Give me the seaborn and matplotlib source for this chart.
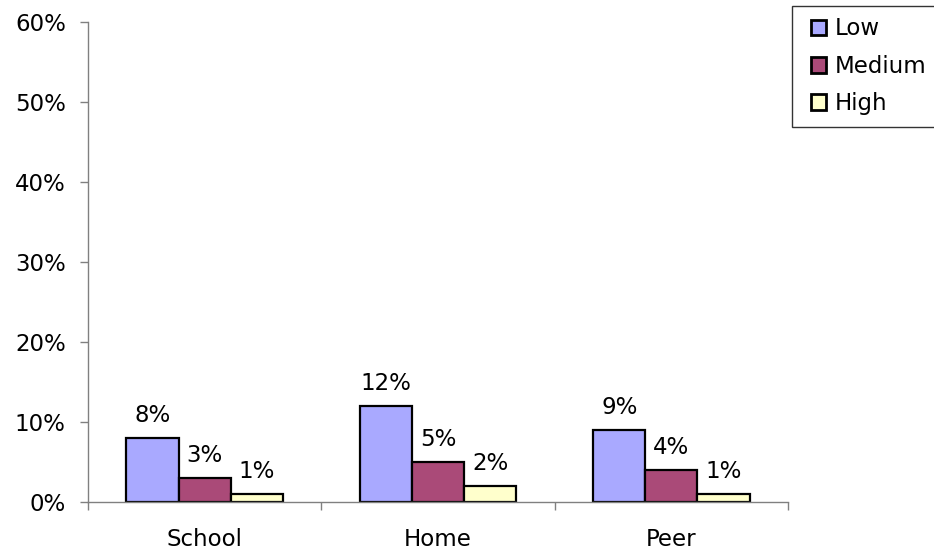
import matplotlib
matplotlib.use("Agg")
import matplotlib.pyplot as plt
import seaborn as sns
import pandas as pd
from matplotlib.patches import Rectangle
from matplotlib.legend_handler import HandlerPatch
from matplotlib.ticker import FixedLocator, PercentFormatter

categories = ["School", "Home", "Peer"]
levels = ["Low", "Medium", "High"]
low = [8, 12, 9]
medium = [3, 5, 4]
high = [1, 2, 1]
colors = ["#A9A9FF", "#AA4A78", "#FFFFCC"]

rows = []
for lvl, vals in zip(levels, [low, medium, high]):
    for c, v in zip(categories, vals):
        rows.append({"Category": c, "Level": lvl, "Value": v})
df = pd.DataFrame(rows)

sns.set_style("white")
plt.rcParams["font.family"] = ["DejaVu Sans"]
plt.rcParams["text.color"] = "black"
plt.rcParams["xtick.labelcolor"] = "black"
plt.rcParams["ytick.labelcolor"] = "black"

FS = 16.5
W, H = 934, 554
fig = plt.figure(figsize=(W / 100, H / 100), dpi=100)
ax = fig.add_axes([88 / W, 52 / H, 700 / W, 480 / H])

sns.barplot(data=df, x="Category", y="Value", hue="Level", order=categories,
            hue_order=levels, palette=colors, saturation=1, width=0.67, gap=0,
            edgecolor="black", linewidth=1.6, ax=ax, legend=True)

for cont in ax.containers:
    ax.bar_label(cont, labels=[f"{v:.0f}%" for v in cont.datavalues],
                 padding=8, fontsize=FS, color="black")

ax.set_xlim(-0.5, 2.5)
ax.set_ylim(0, 60)
ax.set_yticks(range(0, 61, 10))
ax.yaxis.set_major_formatter(PercentFormatter(decimals=0))
ax.set_xlabel("")
ax.set_ylabel("")
ax.tick_params(axis="y", which="major", direction="out", length=6, width=1,
               color="#808080", labelsize=FS, pad=10, left=True)
ax.tick_params(axis="x", which="major", length=0, labelsize=FS, pad=19)
ax.xaxis.set_minor_locator(FixedLocator([-0.5, 0.5, 1.5, 2.5]))
ax.tick_params(axis="x", which="minor", direction="out", length=6, width=1,
               color="#808080", bottom=True)
for s in ["top", "right"]:
    ax.spines[s].set_visible(False)
for s in ["left", "bottom"]:
    ax.spines[s].set_color("#808080")
    ax.spines[s].set_linewidth(1)


def square_patch(legend, orig_handle, xdescent, ydescent, width, height, fontsize):
    s = height
    return Rectangle((-xdescent + width - s, -ydescent), s, s)


handles, labels = ax.get_legend_handles_labels()
leg = ax.legend(handles, labels, loc="upper left",
                bbox_to_anchor=(792 / W, 1 - 6 / H),
                bbox_transform=fig.transFigure, frameon=True, fancybox=False,
                fontsize=FS, handlelength=1.0, handleheight=0.67,
                handletextpad=0.35, borderpad=0.5, labelspacing=0.63,
                borderaxespad=0, title=None,
                handler_map={Rectangle: HandlerPatch(patch_func=square_patch)})
leg.get_frame().set_edgecolor("black")
leg.get_frame().set_linewidth(1)
for h in leg.legend_handles:
    h.set_edgecolor("black")
    h.set_linewidth(2)

fig.savefig("out.png", dpi=100)
